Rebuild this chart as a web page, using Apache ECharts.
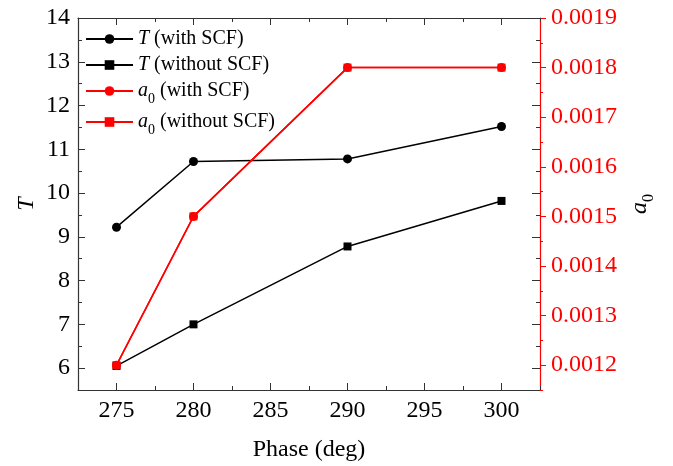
<!DOCTYPE html>
<html>
<head>
<meta charset="utf-8">
<script src="https://cdn.jsdelivr.net/npm/echarts@6/dist/echarts.min.js"></script>
<style>
  html, body { margin: 0; padding: 0; background: #fff; }
  #chart { width: 673px; height: 466px; }
</style>
</head>
<body>
<div id="chart"></div>
<script>
// Phase sweep: period T and a0, with and without SCF
const phase = [275, 280, 290, 300];
const tWithScf = [9.22, 10.72, 10.78, 11.52];
const tWithoutScf = [6.05, 7.0, 8.78, 9.82];
const a0WithScf = [0.0012, 0.0015, 0.0018, 0.0018];
const a0WithoutScf = [0.0012, 0.0015, 0.0018, 0.0018];

const phaseTicks = [275, 280, 285, 290, 295, 300];
const tTicks = [6, 7, 8, 9, 10, 11, 12, 13, 14];
const a0Ticks = [0.0012, 0.0013, 0.0014, 0.0015, 0.0016, 0.0017, 0.0018, 0.0019];

const FONT = 'Liberation Serif';
const AX = '#333';
const RED = '#ff0000';

const xRange = { min: 272.5, max: 302.5 };
const tRange = { min: 5.5, max: 14 };
const aRange = { min: 0.00115, max: 0.0019 };

const pairs = (ys) => phase.map((p, i) => [p, ys[i]]);
const isOn = (v, list) => list.some((t) => Math.abs(t - v) < 1e-9);

const legendNames = {
  tw: '{i|T} (with SCF)',
  two: '{i|T} (without SCF)',
  aw: '{i|a}{s|0} (with SCF)',
  awo: '{i|a}{s|0} (without SCF)'
};

function minorX(pos) {
  return {
    type: 'value', position: pos, ...xRange, interval: 2.5,
    axisLine: { show: true, lineStyle: { color: AX, width: 1.2 } },
    axisTick: { show: true, inside: true, length: 4, lineStyle: { color: AX } },
    axisLabel: pos === 'bottom' ? {
      show: true, margin: 9, color: '#000', fontFamily: FONT, fontSize: 24,
      formatter: (v) => (isOn(v, phaseTicks) ? String(v) : '')
    } : { show: false },
    splitLine: { show: false },
    name: pos === 'bottom' ? 'Phase (deg)' : '',
    nameLocation: 'middle', nameGap: 48,
    nameTextStyle: { color: '#000', fontFamily: FONT, fontSize: 24 }
  };
}
function majorX(pos) {
  return {
    type: 'value', position: pos, ...xRange,
    axisLine: { show: false },
    axisTick: { show: true, inside: true, length: 7, customValues: phaseTicks, lineStyle: { color: AX } },
    axisLabel: { show: false },
    splitLine: { show: false }
  };
}

const option = {
  animation: false,
  backgroundColor: '#fff',
  textStyle: { fontFamily: FONT },
  grid: { left: 78, right: 133, top: 18, bottom: 76, containLabel: false, outerBoundsMode: 'none' },
  legend: {
    orient: 'vertical', left: 80, top: 24,
    itemWidth: 47, itemHeight: 12, itemGap: 6,
    data: ['tw', 'two', 'aw', 'awo'],
    formatter: (n) => legendNames[n],
    textStyle: {
      color: '#000', fontFamily: FONT, fontSize: 20,
      rich: {
        i: { fontStyle: 'italic', fontFamily: FONT, fontSize: 20 },
        s: { fontFamily: FONT, fontSize: 14, verticalAlign: 'bottom', lineHeight: 30 }
      }
    }
  },
  xAxis: [minorX('bottom'), majorX('bottom'), minorX('top'), majorX('top')],
  yAxis: [
    {
      type: 'value', position: 'left', ...tRange, interval: 0.5,
      axisLine: { show: true, lineStyle: { color: AX, width: 1.2 } },
      axisTick: { show: true, inside: true, length: 4, lineStyle: { color: AX } },
      axisLabel: {
        show: true, margin: 8, color: '#000', fontFamily: FONT, fontSize: 24,
        formatter: (v) => (isOn(v, tTicks) ? String(v) : '')
      },
      splitLine: { show: false },
      name: 'T', nameLocation: 'middle', nameGap: 39, nameRotate: 90, nameMoveOverlap: false,
      nameTextStyle: { color: '#000', fontFamily: FONT, fontSize: 24, fontStyle: 'italic' }
    },
    {
      type: 'value', position: 'left', ...tRange,
      axisLine: { show: false },
      axisTick: { show: true, inside: true, length: 7, customValues: tTicks, lineStyle: { color: AX } },
      axisLabel: { show: false }, splitLine: { show: false }
    },
    {
      type: 'value', position: 'right', ...tRange, interval: 0.5,
      axisLine: { show: false },
      axisTick: { show: true, inside: true, length: 4, lineStyle: { color: AX } },
      axisLabel: { show: false }, splitLine: { show: false }
    },
    {
      type: 'value', position: 'right', ...tRange,
      axisLine: { show: false },
      axisTick: { show: true, inside: true, length: 8, customValues: tTicks, lineStyle: { color: AX } },
      axisLabel: { show: false }, splitLine: { show: false }
    },
    {
      type: 'value', position: 'right', ...aRange, interval: 0.00005,
      axisLine: { show: true, lineStyle: { color: RED, width: 1.2 } },
      axisTick: { show: true, inside: false, length: 3, lineStyle: { color: RED } },
      axisLabel: {
        show: true, margin: 11, color: RED, fontFamily: FONT, fontSize: 24,
        formatter: (v) => (isOn(v, a0Ticks) ? v.toFixed(4) : '')
      },
      splitLine: { show: false },
      name: '{i|a}{s|0}', nameLocation: 'middle', nameGap: 80, nameRotate: 90,
      nameTextStyle: {
        color: '#000', fontFamily: FONT, fontSize: 24,
        rich: {
          i: { fontStyle: 'italic', fontFamily: FONT, fontSize: 24, color: '#000' },
          s: { fontFamily: FONT, fontSize: 16, verticalAlign: 'bottom', lineHeight: 34, color: '#000' }
        }
      }
    },
    {
      type: 'value', position: 'right', ...aRange,
      axisLine: { show: false },
      axisTick: { show: true, inside: false, length: 6, customValues: a0Ticks, lineStyle: { color: RED } },
      axisLabel: { show: false }, splitLine: { show: false }
    }
  ],
  series: [
    {
      name: 'tw', type: 'line', xAxisIndex: 0, yAxisIndex: 0, data: pairs(tWithScf),
      symbol: 'circle', symbolSize: 9,
      lineStyle: { color: '#000', width: 1.5 }, itemStyle: { color: '#000' }
    },
    {
      name: 'two', type: 'line', xAxisIndex: 0, yAxisIndex: 0, data: pairs(tWithoutScf),
      symbol: 'rect', symbolSize: 8,
      lineStyle: { color: '#000', width: 1.5 }, itemStyle: { color: '#000' }
    },
    {
      name: 'aw', type: 'line', xAxisIndex: 0, yAxisIndex: 4, data: pairs(a0WithScf),
      symbol: 'circle', symbolSize: 9,
      lineStyle: { color: RED, width: 1.5 }, itemStyle: { color: RED }
    },
    {
      name: 'awo', type: 'line', xAxisIndex: 0, yAxisIndex: 4, data: pairs(a0WithoutScf),
      symbol: 'rect', symbolSize: 8,
      lineStyle: { color: RED, width: 1.5 }, itemStyle: { color: RED }
    }
  ]
};

const chart = echarts.init(document.getElementById('chart'), null, { renderer: 'canvas' });
chart.setOption(option);
</script>
</body>
</html>
